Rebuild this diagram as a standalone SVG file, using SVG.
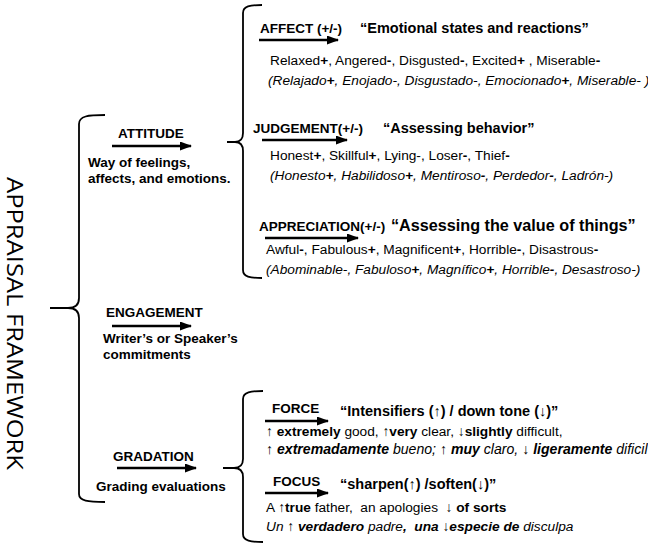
<svg xmlns="http://www.w3.org/2000/svg" width="648" height="544" viewBox="0 0 648 544">
<defs>
<marker id="ah" markerUnits="userSpaceOnUse" markerWidth="12" markerHeight="9" refX="11" refY="4.5" orient="auto">
<path d="M0,0 L12,4.5 L0,9 z" fill="#000"/>
</marker>
<style>
text{font-family:"Liberation Sans",Arial,sans-serif;fill:#000}
.h{font-size:13.5px;font-weight:bold}
.q{font-size:14.5px;font-weight:bold}
.b{font-size:13.7px}
.l{font-size:13.5px;font-weight:bold}
.i{font-style:italic}
.s{font-weight:bold}
.br{fill:none;stroke:#000;stroke-width:1.8}
.ar{stroke:#000;stroke-width:2.6;marker-end:url(#ah)}
</style>
</defs>
<rect width="648" height="544" fill="#fff"/>
<g id="title">
<text transform="translate(7,323.5) rotate(90)" text-anchor="middle" font-size="21" textLength="293" lengthAdjust="spacingAndGlyphs" style="font-family:'Open Sans','Liberation Sans',sans-serif">APPRAISAL FRAMEWORK</text>
</g>
<g id="connectors">
<path class="br" d="M105,115 C88,115 79,116 79,124 L79,298 Q79,308 68,308 L50,308 M68,308 Q79,308 79,318 L79,494 C79,501 88,502 105,502"/>
<path class="br" d="M262,5 C250,5 243,6 243,13 L243,133 Q243,142 235,142 L227,142 M235,142 Q243,142 243,151 L243,270 C243,277 250,278 262,278"/>
<path class="br" d="M263,391 C251,391 243,392 243,399 L243,459 Q243,468 234,468 L223,468 M234,468 Q243,468 243,477 L243,534 C243,541 251,542 263,542"/>
<line class="ar" x1="112" y1="146" x2="191" y2="146"/>
<line class="ar" x1="112" y1="326" x2="191" y2="326"/>
<line class="ar" x1="117" y1="468" x2="196" y2="468"/>
<line class="ar" x1="259" y1="40" x2="338" y2="40"/>
<line class="ar" x1="262" y1="140" x2="347" y2="140"/>
<line class="ar" x1="265" y1="238" x2="358" y2="238"/>
<line class="ar" x1="265" y1="421" x2="328" y2="421"/>
<line class="ar" x1="265" y1="493" x2="328" y2="493"/>
</g>
<g id="attitude">
<text class="l" x="118" y="138">ATTITUDE</text>
<text class="l" x="88" y="167">Way of feelings,</text>
<text class="l" x="88" y="183">affects, and emotions.</text>
</g>
<g id="engagement">
<text class="l" x="106" y="317">ENGAGEMENT</text>
<text class="l" x="103" y="343">Writer’s or Speaker’s</text>
<text class="l" x="103" y="359">commitments</text>
</g>
<g id="gradation">
<text class="l" x="113" y="461">GRADATION</text>
<text class="l" x="96" y="491">Grading evaluations</text>
</g>
<g id="affect">
<text class="h" x="260" y="33">AFFECT (+/-)</text>
<text class="q" x="360" y="33">“Emotional states and reactions”</text>
<text class="b" x="270" y="65" xml:space="preserve">Relaxed<tspan class="s">+</tspan>, Angered<tspan class="s">-</tspan>, Disgusted<tspan class="s">-</tspan>, Excited<tspan class="s">+</tspan> , Miserable<tspan class="s">-</tspan></text>
<text class="b i" x="268" y="85" xml:space="preserve">(Relajado<tspan class="s">+</tspan>, Enojado-, Disgustado-, Emocionado<tspan class="s">+</tspan>, Miserable- )</text>
</g>
<g id="judgement">
<text class="h" x="253" y="133">JUDGEMENT(+/-)</text>
<text class="q" x="383" y="133">“Assessing behavior”</text>
<text class="b" x="270" y="160" xml:space="preserve">Honest<tspan class="s">+</tspan>, Skillful<tspan class="s">+</tspan>, Lying-, Loser<tspan class="s">-</tspan>, Thief<tspan class="s">-</tspan></text>
<text class="b i" x="270" y="180" xml:space="preserve">(Honesto<tspan class="s">+</tspan>, Habilidoso<tspan class="s">+</tspan>, Mentiroso<tspan class="s">-</tspan>, Perdedor<tspan class="s">-</tspan>, Ladrón-)</text>
</g>
<g id="appreciation">
<text class="h" x="259" y="231">APPRECIATION(+/-)</text>
<text class="q" x="391" y="231" style="font-size:16.2px">“Assessing the value of things”</text>
<text class="b" x="266" y="254" xml:space="preserve">Awful<tspan class="s">-</tspan>, Fabulous<tspan class="s">+</tspan>, Magnificent<tspan class="s">+</tspan>, Horrible<tspan class="s">-</tspan>, Disastrous<tspan class="s">-</tspan></text>
<text class="b i" x="266" y="274" xml:space="preserve">(Abominable-, Fabuloso<tspan class="s">+</tspan>, Magnífico<tspan class="s">+</tspan>, Horrible<tspan class="s">-</tspan>, Desastroso-)</text>
</g>
<g id="force">
<text class="h" x="272" y="413">FORCE</text>
<text class="q" x="340" y="416">“Intensifiers (↑) / down tone (↓)”</text>
<text class="b" x="266" y="436" xml:space="preserve">↑ <tspan class="s">extremely</tspan> good, ↑<tspan class="s">very</tspan> clear, ↓<tspan class="s">slightly</tspan> difficult,</text>
<text class="b i" x="266" y="454" style="font-size:14.1px" xml:space="preserve">↑ <tspan class="s">extremadamente</tspan> bueno; ↑ <tspan class="s">muy</tspan> claro, ↓ <tspan class="s">ligeramente</tspan> dificil</text>
</g>
<g id="focus">
<text class="h" x="273" y="486">FOCUS</text>
<text class="q" x="340" y="489">“sharpen(↑) /soften(↓)”</text>
<text class="b" x="266" y="512" xml:space="preserve">A ↑<tspan class="s">true</tspan> father,  an apologies  ↓ <tspan class="s">of sorts</tspan></text>
<text class="b i" x="266" y="531" xml:space="preserve">Un ↑ <tspan class="s">verdadero</tspan> padre<tspan class="s">,  una</tspan> ↓<tspan class="s">especie de</tspan> disculpa</text>
</g>
</svg>
